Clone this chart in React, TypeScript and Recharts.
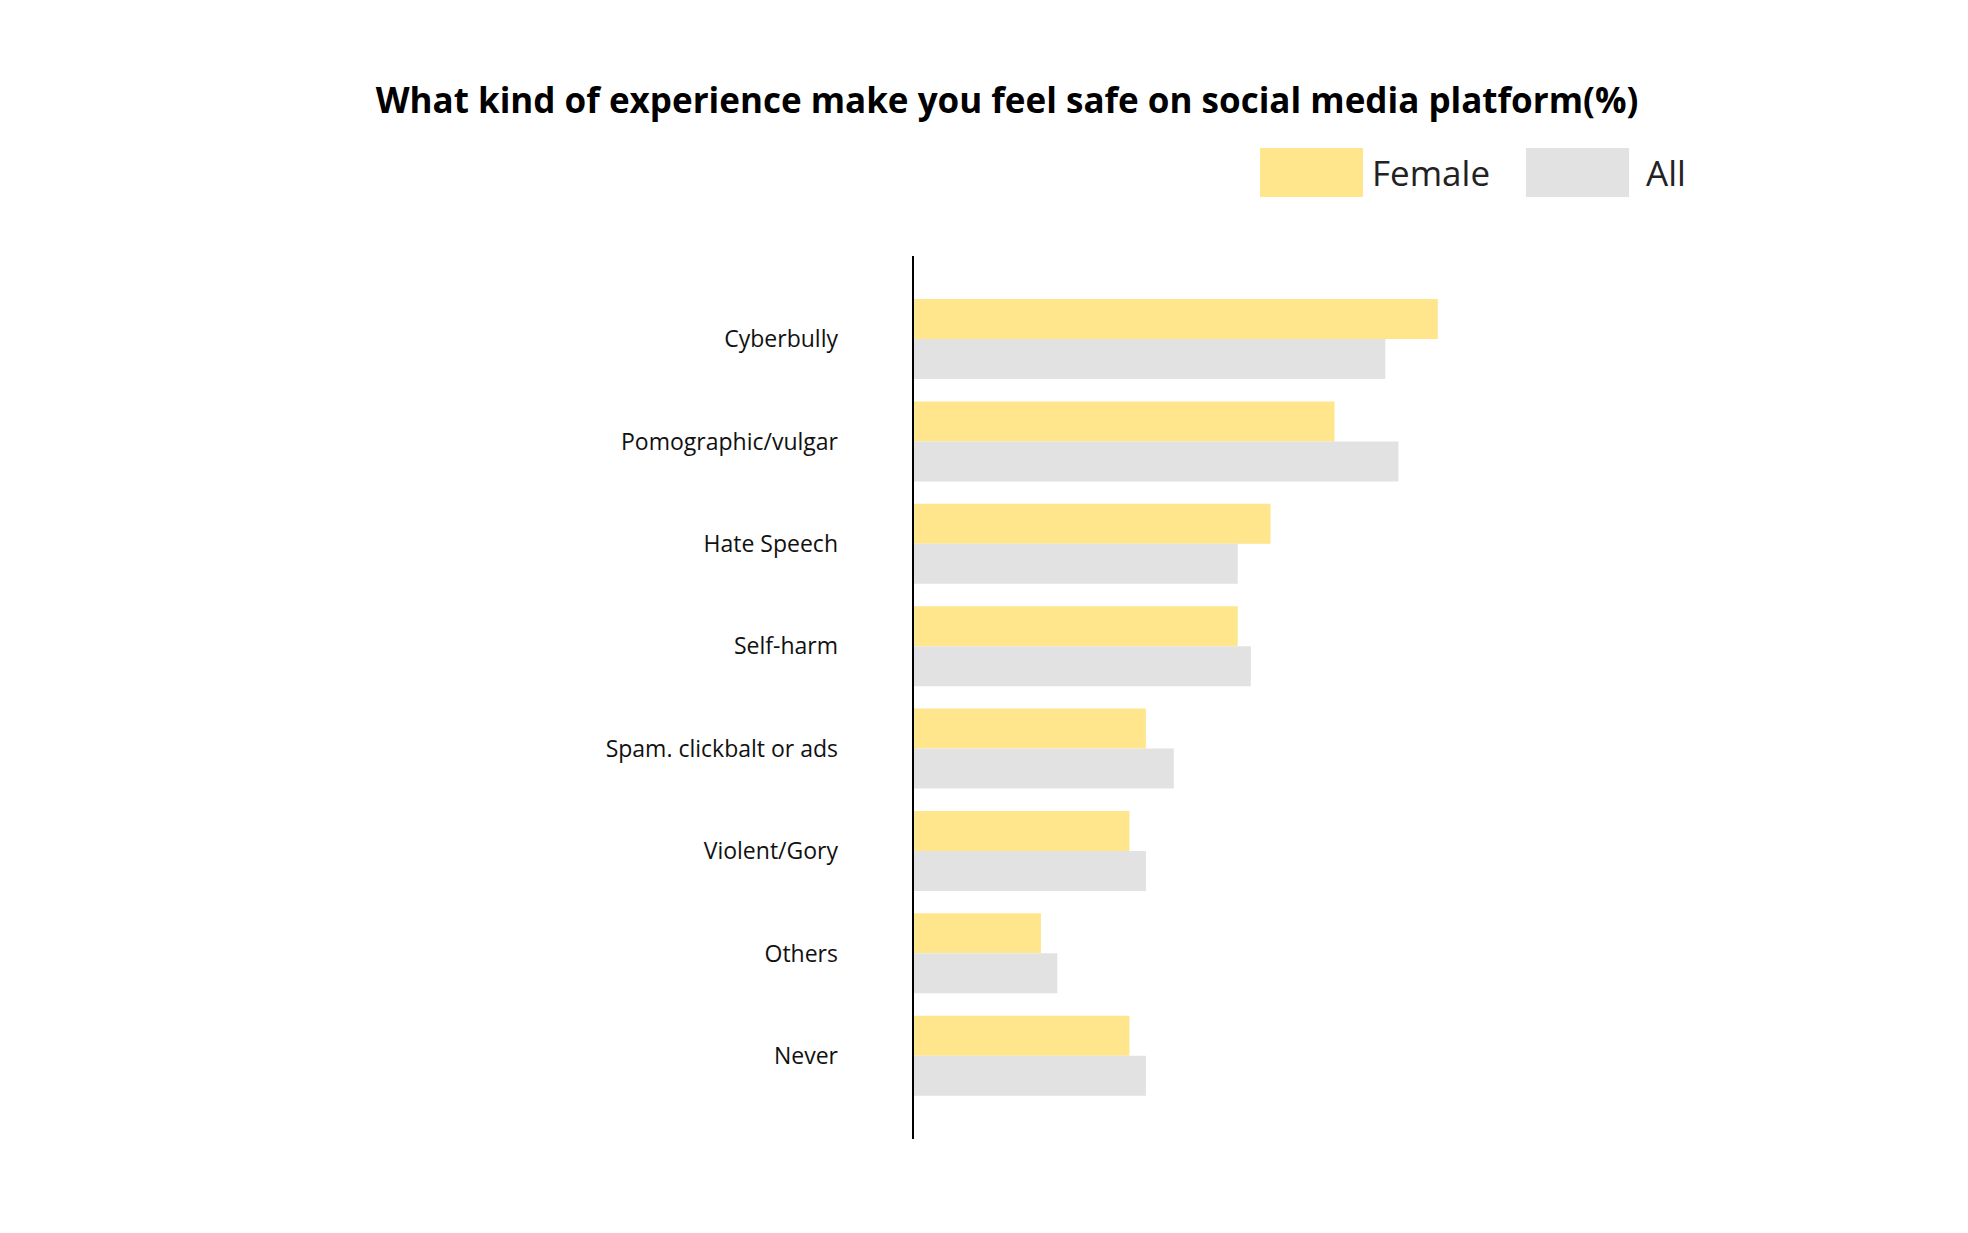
import { BarChart, Bar, XAxis, YAxis } from 'recharts'

const categories = ['Cyberbully', 'Pomographic/vulgar', 'Hate Speech', 'Self-harm', 'Spam. clickbalt or ads', 'Violent/Gory', 'Others', 'Never']
const female = [32, 25.7, 21.8, 19.8, 14.2, 13.2, 7.8, 13.2]
const all = [28.8, 29.6, 19.8, 20.6, 15.9, 14.2, 8.8, 14.2]

const data = categories.map((name, i) => ({ name, female: female[i], all: all[i] }))

const font = '"Open Sans", sans-serif'

export default function App() {
  return (
    <div style={{ position: 'absolute', left: 0, top: 0, width: 1968, height: 1233, background: '#fff', fontFamily: font }}>
      <div style={{ position: 'absolute', left: 0, width: 2014, top: 76, textAlign: 'center', fontSize: 35, fontWeight: 700, color: '#000' }}>
        What kind of experience make you feel safe on social media platform(%)
      </div>
      <div style={{ position: 'absolute', left: 1260, top: 148, width: 103, height: 49, background: '#FFE58C' }} />
      <div style={{ position: 'absolute', left: 1372, top: 148, lineHeight: '49px', fontSize: 35, color: '#222' }}>Female</div>
      <div style={{ position: 'absolute', left: 1526, top: 148, width: 103, height: 49, background: '#E2E2E2' }} />
      <div style={{ position: 'absolute', left: 1646, top: 148, lineHeight: '49px', fontSize: 35, color: '#222' }}>All</div>
      <BarChart width={1968} height={1233} data={data} layout="vertical" barGap={0} barSize={40}
        margin={{ top: 256, right: 399, bottom: 94, left: 0 }}>
        <XAxis type="number" domain={[0, 40]} hide />
        <YAxis type="category" dataKey="name" width={913} tickLine={false} tickSize={0} tickMargin={75}
          axisLine={{ stroke: '#000', strokeWidth: 2 }} padding={{ top: 32, bottom: 32 }}
          tick={{ fontSize: 23, fill: '#111', fontFamily: font }} />
        <Bar dataKey="female" fill="#FFE58C" isAnimationActive={false} />
        <Bar dataKey="all" fill="#E2E2E2" isAnimationActive={false} />
      </BarChart>
    </div>
  )
}
